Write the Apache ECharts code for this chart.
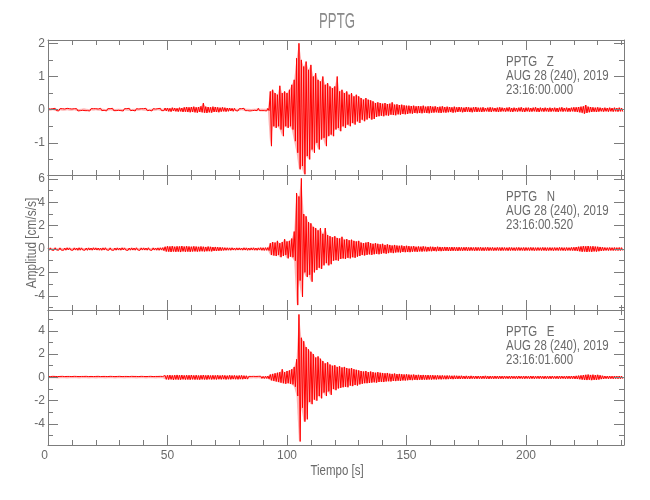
<!DOCTYPE html>
<html><head><meta charset="utf-8">
<script src="https://cdn.jsdelivr.net/npm/echarts@6/dist/echarts.min.js"></script>
<style>html,body{margin:0;padding:0;background:#fff}#c{width:650px;height:500px}</style>
</head><body><div id="c"></div>
<script>
// ---- data (cm/s/s), one max/min pair per second, t = 0..240 s ----
const xTickLabels = [0, 50, 100, 150, 200];
const xMinorTicks = [10,20,30,40,60,70,80,90,110,120,130,140,160,170,180,190,210,220,230,240];
const stationLabels = ['PPTG   Z', 'PPTG   N', 'PPTG   E'];
const dateLabel = 'AUG 28 (240), 2019';
const startTimes = ['23:16:00.000', '23:16:00.520', '23:16:01.600'];
const yMajorTicks = [[-1, 0, 1, 2], [-4, -2, 0, 2, 4, 6], [-4, -2, 0, 2, 4]];
const yMinorTicks = [[-1.5, -0.5, 0.5, 1.5], [-5, -3, -1, 1, 3, 5], [-5, -3, -1, 1, 3, 5]];
const yMins = [-1.97, -5.22, -5.8];
const yMaxs = [2.1, 6.34, 5.78];

const zHi = [
.03,.02,.03,.04,.02,.03,.03,.02,.04,.03,
.02,.03,.03,.02,.03,.04,.03,.02,.03,.03,
.03,.02,.04,.03,.02,.03,.03,.04,.02,.03,
.03,.02,.03,.03,.04,.02,.03,.03,.02,.03,
.03,.04,.02,.03,.03,.02,.03,.04,.03,.05,
.05,.04,.06,.05,.04,.06,.05,.07,.08,.07,
.08,.09,.07,.08,.10,.20,.09,.08,.07,.09,
.08,.07,.06,.07,.06,.05,.05,.04,.04,.03,
.03,.03,.04,.03,.03,.02,.03,.03,.04,.03,
.03,.03,.04,.55,.60,.50,.45,.72,.50,.55,
.50,.60,.75,.90,1.55,2.00,1.50,1.30,1.45,1.20,
1.35,1.00,1.10,.90,.85,1.00,.75,.80,.70,.65,
.70,1.00,.55,.60,.50,.55,.45,.50,.40,.45,
.40,.35,.30,.35,.30,.28,.25,.20,.22,.20,
.18,.20,.17,.18,.22,.15,.16,.14,.15,.13,
.12,.12,.11,.12,.10,.11,.10,.12,.09,.10,
.11,.09,.10,.08,.09,.10,.08,.09,.08,.07,
.09,.07,.08,.07,.06,.08,.07,.06,.07,.08,
.06,.06,.07,.05,.06,.07,.06,.05,.06,.07,
.06,.05,.06,.07,.05,.06,.05,.06,.07,.05,
.06,.06,.05,.06,.07,.05,.06,.05,.06,.05,
.06,.05,.06,.05,.06,.07,.05,.06,.05,.06,
.07,.07,.08,.09,.10,.14,.09,.08,.07,.06,
.07,.06,.05,.06,.05,.06,.05,.06,.05,.06,
.05];
const zLo = [
-.03,-.03,-.02,-.03,-.04,-.02,-.03,-.03,-.02,-.03,
-.03,-.02,-.04,-.03,-.02,-.03,-.03,-.04,-.02,-.03,
-.02,-.03,-.03,-.02,-.04,-.03,-.02,-.03,-.03,-.02,
-.03,-.04,-.02,-.03,-.03,-.02,-.04,-.03,-.03,-.02,
-.03,-.03,-.02,-.04,-.03,-.03,-.02,-.03,-.03,-.04,
-.05,-.06,-.04,-.05,-.06,-.05,-.07,-.06,-.07,-.08,
-.07,-.08,-.09,-.07,-.08,-.09,-.10,-.08,-.09,-.07,
-.07,-.08,-.06,-.05,-.06,-.05,-.04,-.05,-.03,-.04,
-.03,-.02,-.03,-.03,-.04,-.03,-.02,-.03,-.03,-.03,
-.03,-.04,-.03,-1.10,-.50,-.55,-.50,-.60,-.80,-.50,
-.55,-.50,-.60,-.95,-1.30,-1.80,-1.70,-1.95,-1.40,-1.50,
-1.20,-1.30,-1.00,-1.20,-.90,-.85,-1.10,-.80,-.75,-.80,
-.60,-.55,-.65,-.50,-.55,-.45,-.50,-.40,-.45,-.35,
-.40,-.30,-.35,-.30,-.25,-.30,-.28,-.22,-.20,-.18,
-.20,-.17,-.18,-.15,-.16,-.17,-.14,-.15,-.13,-.14,
-.13,-.11,-.12,-.10,-.11,-.10,-.11,-.09,-.10,-.11,
-.09,-.09,-.08,-.09,-.10,-.08,-.09,-.08,-.07,-.09,
-.08,-.07,-.06,-.08,-.07,-.06,-.07,-.08,-.06,-.07,
-.06,-.07,-.06,-.05,-.06,-.07,-.05,-.06,-.07,-.06,
-.05,-.06,-.05,-.06,-.07,-.05,-.06,-.05,-.06,-.07,
-.05,-.06,-.06,-.05,-.06,-.07,-.05,-.06,-.05,-.06,
-.06,-.05,-.06,-.07,-.05,-.06,-.05,-.06,-.06,-.05,
-.06,-.07,-.08,-.09,-.12,-.10,-.08,-.07,-.06,-.07,
-.06,-.05,-.06,-.05,-.06,-.05,-.06,-.05,-.06,-.05,
-.06];
const nHi = [
.09,.10,.08,.11,.09,.10,.08,.09,.11,.10,
.08,.10,.09,.11,.10,.08,.09,.10,.09,.11,
.10,.09,.08,.10,.11,.09,.10,.08,.09,.10,
.09,.11,.10,.08,.09,.10,.09,.11,.08,.10,
.10,.09,.11,.08,.10,.09,.10,.11,.12,.20,
.24,.22,.25,.20,.23,.22,.26,.21,.24,.22,
.20,.23,.21,.19,.22,.20,.18,.21,.19,.17,
.18,.16,.15,.13,.12,.11,.10,.11,.09,.10,
.10,.09,.11,.10,.09,.10,.11,.09,.10,.12,
.11,.12,.13,.50,.60,.55,.70,.50,.60,.85,
.65,.70,.90,1.50,4.80,4.50,6.05,3.00,2.80,2.30,
2.20,1.90,1.80,1.60,1.80,1.30,1.80,1.20,1.10,1.00,
1.10,.95,.90,1.05,.80,.85,.75,.80,.70,.65,
.70,.55,.50,.55,.60,.50,.45,.50,.45,.40,
.45,.35,.40,.35,.30,.35,.30,.28,.30,.25,
.28,.25,.22,.25,.20,.22,.20,.23,.20,.18,
.20,.19,.17,.20,.18,.16,.18,.17,.15,.17,
.16,.15,.16,.14,.15,.16,.14,.15,.13,.15,
.14,.15,.13,.14,.15,.13,.14,.12,.14,.13,
.14,.13,.12,.14,.13,.12,.13,.14,.12,.13,
.13,.12,.14,.13,.12,.13,.12,.14,.13,.12,
.13,.12,.13,.12,.14,.13,.12,.13,.12,.14,
.15,.17,.20,.22,.25,.23,.26,.22,.24,.21,
.20,.18,.15,.13,.12,.13,.12,.13,.12,.13,
.12];
const nLo = [
-.10,-.09,-.11,-.08,-.10,-.09,-.11,-.10,-.08,-.09,
-.10,-.09,-.11,-.10,-.08,-.10,-.11,-.09,-.10,-.08,
-.09,-.10,-.11,-.09,-.08,-.10,-.09,-.11,-.10,-.09,
-.10,-.08,-.09,-.11,-.10,-.09,-.10,-.08,-.11,-.09,
-.09,-.10,-.08,-.11,-.09,-.10,-.11,-.09,-.13,-.21,
-.22,-.25,-.21,-.24,-.22,-.26,-.20,-.23,-.22,-.24,
-.21,-.20,-.22,-.20,-.19,-.21,-.19,-.18,-.20,-.16,
-.17,-.15,-.14,-.12,-.11,-.10,-.11,-.09,-.10,-.09,
-.09,-.10,-.09,-.11,-.10,-.09,-.10,-.11,-.09,-.11,
-.12,-.11,-.13,-.50,-.55,-.60,-.50,-.70,-.60,-.50,
-.80,-.65,-.70,-1.00,-4.80,-2.70,-4.10,-2.00,-2.40,-2.20,
-2.80,-2.00,-1.80,-1.60,-1.70,-1.40,-1.20,-1.40,-1.30,-1.00,
-.95,-1.00,-.85,-.80,-.85,-.75,-.80,-.70,-.75,-.65,
-.60,-.50,-.55,-.50,-.45,-.50,-.45,-.40,-.45,-.40,
-.35,-.40,-.35,-.30,-.35,-.30,-.28,-.30,-.25,-.27,
-.25,-.27,-.23,-.22,-.24,-.20,-.22,-.19,-.21,-.18,
-.19,-.17,-.19,-.16,-.18,-.17,-.15,-.17,-.16,-.15,
-.15,-.16,-.14,-.15,-.13,-.15,-.14,-.13,-.15,-.14,
-.13,-.14,-.15,-.13,-.14,-.12,-.14,-.13,-.12,-.14,
-.13,-.12,-.14,-.13,-.12,-.14,-.12,-.13,-.12,-.14,
-.12,-.13,-.12,-.14,-.13,-.12,-.13,-.12,-.14,-.13,
-.12,-.14,-.12,-.13,-.12,-.13,-.14,-.12,-.13,-.13,
-.14,-.16,-.19,-.23,-.21,-.25,-.22,-.24,-.20,-.22,
-.19,-.16,-.14,-.12,-.13,-.12,-.13,-.12,-.13,-.12,
-.13];
const eHi = [
.08,.07,.09,.08,.07,.08,.09,.07,.08,.08,
.07,.09,.08,.07,.08,.08,.09,.07,.08,.07,
.08,.09,.07,.08,.08,.07,.09,.08,.07,.08,
.09,.07,.08,.08,.07,.09,.08,.08,.07,.09,
.08,.07,.08,.09,.07,.08,.08,.09,.08,.16,
.18,.20,.17,.19,.21,.18,.20,.17,.19,.18,
.20,.17,.19,.16,.18,.20,.17,.19,.16,.18,
.17,.19,.16,.18,.17,.15,.18,.16,.17,.15,
.16,.17,.15,.14,.09,.08,.09,.08,.09,.10,
.09,.10,.12,.25,.30,.35,.40,.45,.70,.45,
.55,.60,.70,.90,1.55,5.40,3.40,3.10,2.60,2.40,
2.20,2.00,1.70,1.80,1.60,1.40,1.20,1.30,1.10,1.00,
1.05,.90,.95,.85,.90,.80,.75,.80,.70,.65,
.60,.55,.50,.55,.45,.50,.45,.40,.45,.40,
.38,.35,.38,.32,.30,.33,.28,.30,.27,.25,
.26,.24,.22,.24,.21,.22,.20,.21,.19,.20,
.18,.19,.17,.18,.16,.17,.15,.16,.15,.14,
.15,.14,.13,.14,.12,.13,.12,.13,.11,.12,
.12,.11,.12,.13,.11,.12,.11,.12,.11,.12,
.11,.12,.10,.11,.12,.10,.11,.12,.10,.11,
.11,.10,.12,.11,.10,.11,.12,.10,.11,.10,
.11,.12,.10,.11,.12,.11,.10,.12,.11,.12,
.12,.13,.15,.17,.20,.22,.24,.21,.23,.20,
.22,.18,.14,.12,.11,.12,.11,.12,.11,.12,
.11];
const eLo = [
-.07,-.08,-.08,-.07,-.09,-.08,-.07,-.08,-.09,-.07,
-.08,-.08,-.07,-.09,-.08,-.07,-.08,-.09,-.07,-.08,
-.09,-.07,-.08,-.08,-.09,-.08,-.07,-.08,-.09,-.07,
-.08,-.08,-.09,-.07,-.08,-.08,-.07,-.09,-.08,-.08,
-.07,-.09,-.08,-.07,-.08,-.09,-.07,-.08,-.08,-.17,
-.19,-.17,-.21,-.18,-.19,-.20,-.17,-.19,-.18,-.20,
-.17,-.19,-.18,-.20,-.17,-.18,-.19,-.16,-.18,-.17,
-.18,-.16,-.17,-.15,-.18,-.16,-.17,-.15,-.16,-.17,
-.15,-.16,-.14,-.15,-.08,-.09,-.08,-.09,-.08,-.09,
-.10,-.09,-.13,-.25,-.30,-.35,-.40,-.45,-.50,-.55,
-.50,-.55,-.60,-.80,-1.60,-5.50,-2.60,-3.80,-3.60,-2.10,
-2.30,-1.90,-2.00,-1.60,-1.80,-1.30,-1.60,-1.20,-1.50,-1.00,
-1.10,-.95,-.90,-.85,-.80,-.85,-.70,-.75,-.65,-.70,
-.60,-.55,-.50,-.50,-.48,-.45,-.42,-.45,-.40,-.38,
-.40,-.35,-.33,-.35,-.30,-.32,-.28,-.30,-.26,-.27,
-.25,-.23,-.24,-.21,-.23,-.20,-.21,-.19,-.20,-.18,
-.19,-.17,-.18,-.16,-.17,-.15,-.16,-.15,-.14,-.15,
-.14,-.13,-.14,-.12,-.13,-.12,-.13,-.11,-.12,-.12,
-.11,-.12,-.11,-.12,-.13,-.11,-.12,-.11,-.12,-.11,
-.12,-.10,-.11,-.12,-.10,-.11,-.12,-.10,-.11,-.12,
-.10,-.11,-.11,-.12,-.10,-.11,-.10,-.12,-.11,-.11,
-.12,-.10,-.11,-.12,-.11,-.10,-.12,-.11,-.12,-.11,
-.13,-.14,-.16,-.19,-.21,-.23,-.20,-.24,-.21,-.22,
-.19,-.15,-.13,-.11,-.12,-.11,-.12,-.11,-.12,-.11,
-.12];

const his = [zHi, nHi, eHi];
const los = [zLo, nLo, eLo];

// ---- chart ----
const FF = "'Liberation Sans', Arial, sans-serif";
const lineC = '#7c7c7c', txtC = '#6a6a6a';
const tops = [40, 175, 310];
const xMax = 241;

function trace(hi, lo) {
  const d = [];
  for (let i = 0; i < hi.length; i++) { d.push([i, hi[i]]); d.push([i + 0.5, lo[i]]); }
  return d;
}
function bandItems(hi, lo) {
  const d = [];
  for (let i = 0; i < hi.length - 1; i++) d.push([i, hi[i], lo[i], hi[i + 1], lo[i + 1]]);
  return d;
}
function bandRender(params, api) {
  const t = api.value(0);
  const p1 = api.coord([t, api.value(1)]);
  const p2 = api.coord([t + 1, api.value(3)]);
  const p3 = api.coord([t + 1, api.value(4)]);
  const p4 = api.coord([t, api.value(2)]);
  return {type: 'polygon', shape: {points: [p1, p2, p3, p4]},
          style: {fill: 'rgba(255,0,0,0.3)', stroke: null}};
}

const grid = [], xAxis = [], yAxis = [], series = [], graphic = [];
for (let g = 0; g < 3; g++) {
  grid.push({left: 48, top: tops[g], width: 576, height: 135});
  const mkX = (pos, vals, len, line, lab) => ({
    gridIndex: g, type: 'value', min: 0, max: xMax, position: pos, z: 5,
    axisLine: {show: line, onZero: false, lineStyle: {color: lineC, width: 1}},
    axisTick: {show: true, inside: true, length: len, customValues: vals, lineStyle: {color: lineC}},
    axisLabel: {show: lab, customValues: vals, color: txtC, fontFamily: FF, fontSize: 12, margin: 5, alignMinLabel: 'right'},
    splitLine: {show: false}
  });
  const mkY = (pos, vals, len, line, lab) => ({
    gridIndex: g, type: 'value', min: yMins[g], max: yMaxs[g], position: pos, z: 5,
    axisLine: {show: line, onZero: false, lineStyle: {color: lineC, width: 1}},
    axisTick: {show: true, inside: true, length: len, customValues: vals, lineStyle: {color: lineC}},
    axisLabel: {show: lab, customValues: vals, color: txtC, fontFamily: FF, fontSize: 12, margin: 3},
    splitLine: {show: false}
  });
  xAxis.push(mkX('bottom', xTickLabels, 10, true, g === 2), mkX('bottom', xMinorTicks, 5, false, false),
             mkX('top', xTickLabels, 10, true, false), mkX('top', xMinorTicks, 5, false, false));
  yAxis.push(mkY('left', yMajorTicks[g], 10, true, true), mkY('left', yMinorTicks[g], 5, false, false),
             mkY('right', yMajorTicks[g], 10, true, false), mkY('right', yMinorTicks[g], 5, false, false));
  // light envelope band between the max and min of each second
  series.push({
    type: 'custom', xAxisIndex: 4 * g, yAxisIndex: 4 * g, data: bandItems(his[g], los[g]),
    encode: {x: 0, y: [1, 2, 3, 4]}, renderItem: bandRender, silent: true, animation: false,
    clip: true, z: 1
  });
  // the trace itself
  series.push({
    type: 'line', xAxisIndex: 4 * g, yAxisIndex: 4 * g, data: trace(his[g], los[g]),
    symbol: 'none', showSymbol: false, sampling: null, silent: true, animation: false,
    lineStyle: {color: '#ff0000', width: 1}, z: 2
  });
  const lines = [stationLabels[g], dateLabel, startTimes[g]];
  lines.forEach((t, k) => graphic.push({
    type: 'text', x: 506, y: tops[g] + 22 + k * 14, scaleX: 0.82,
    style: {text: t, fill: txtC, font: '14px ' + FF, align: 'left', verticalAlign: 'middle'}
  }));
}
graphic.push({type: 'text', x: 337, y: 22, scaleX: 0.6, style: {text: 'PPTG', fill: '#8a8a8a', font: '22px ' + FF, align: 'center', verticalAlign: 'middle'}});
graphic.push({type: 'text', x: 337, y: 471, scaleX: 0.82, style: {text: 'Tiempo [s]', fill: txtC, font: '14px ' + FF, align: 'center', verticalAlign: 'middle'}});
graphic.push({type: 'text', x: 32, y: 243, rotation: Math.PI / 2, scaleX: 0.85, style: {text: 'Amplitud [cm/s/s]', fill: txtC, font: '14px ' + FF, align: 'center', verticalAlign: 'middle'}});

const chart = echarts.init(document.getElementById('c'), null, {renderer: 'canvas'});
chart.setOption({animation: false, grid, xAxis, yAxis, series, graphic});
</script></body></html>
